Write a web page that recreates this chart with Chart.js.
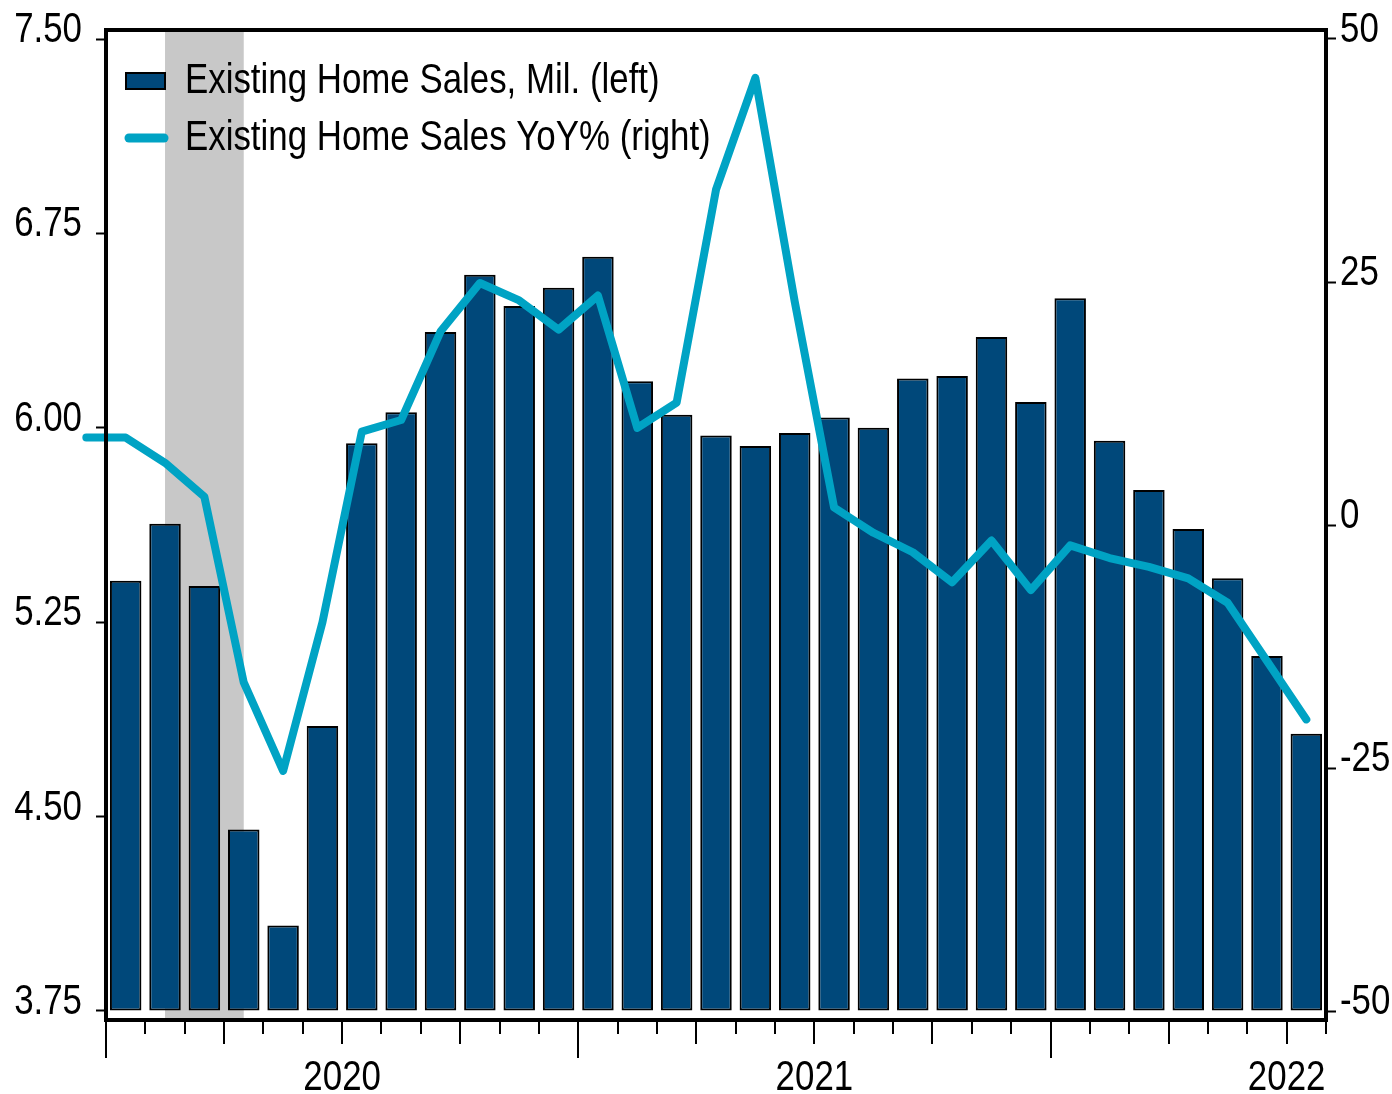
<!DOCTYPE html>
<html>
<head>
<meta charset="utf-8">
<script src="https://cdn.jsdelivr.net/npm/chart.js@4.4.1/dist/chart.umd.min.js"></script>
<style>
  html, body { margin: 0; padding: 0; background: #fff; }
  #wrap { width: 1392px; height: 1094px; position: relative; }
</style>
</head>
<body>
<div id="wrap"><canvas id="chart"></canvas></div>
<script>
// months shown as bars, Jan 2020 .. Jul 2022
var months = [
  'Jan 2020', 'Feb 2020', 'Mar 2020', 'Apr 2020', 'May 2020', 'Jun 2020',
  'Jul 2020', 'Aug 2020', 'Sep 2020', 'Oct 2020', 'Nov 2020', 'Dec 2020',
  'Jan 2021', 'Feb 2021', 'Mar 2021', 'Apr 2021', 'May 2021', 'Jun 2021',
  'Jul 2021', 'Aug 2021', 'Sep 2021', 'Oct 2021', 'Nov 2021', 'Dec 2021',
  'Jan 2022', 'Feb 2022', 'Mar 2022', 'Apr 2022', 'May 2022', 'Jun 2022',
  'Jul 2022'
];

// existing home sales, millions (left axis)
var sales = [
  5.41, 5.63, 5.39, 4.45, 4.08, 4.85, 5.94, 6.06, 6.37, 6.59, 6.47, 6.54,
  6.66, 6.18, 6.05, 5.97, 5.93, 5.98, 6.04, 6.00, 6.19, 6.20, 6.35, 6.10,
  6.50, 5.95, 5.76, 5.61, 5.42, 5.12, 4.82
];

// YoY %, starts one month earlier (Dec 2019) than the bars (right axis)
var yoyStart = -1; // offset in months from Jan 2020
var yoy = [
  9.0,
  9.0, 6.4, 2.9, -16.2, -25.3, -10.0, 9.6, 10.8, 19.9, 24.9, 23.1, 20.1,
  23.6, 10.0, 12.6, 34.5, 46.0, 23.0, 1.8, -0.8, -2.8, -5.9, -1.6, -6.7,
  -2.1, -3.4, -4.3, -5.5, -8.0, -14.0, -20.0
];

var leftTicks = [3.75, 4.50, 5.25, 6.00, 6.75, 7.50];
var rightTicks = [-50, -25, 0, 25, 50];
var yearLabels = ['2020', '2021', '2022'];
var recession = ['Feb 2020', 'Apr 2020'];

var FONT = "'Liberation Sans', Arial, sans-serif";
var FONT_SIZE = 42;
var NARROW = 0.83; // squeeze to look like Arial Narrow
var BAR_COLOR = '#00487a';
var LINE_COLOR = '#00a3c4';

// position in the middle of a month
function monthPos(label) {
  return months.indexOf(label) + 0.5;
}

// narrow text helper
function narrowText(ctx, text, x, y, align) {
  ctx.save();
  ctx.translate(x, y);
  ctx.scale(NARROW, 1);
  ctx.textAlign = align;
  ctx.textBaseline = 'alphabetic';
  ctx.fillText(text, 0, 0);
  ctx.restore();
}

// grey recession band, behind the bars
var bandPlugin = {
  id: 'band',
  beforeDatasetsDraw: function (chart) {
    var ctx = chart.ctx, area = chart.chartArea, x = chart.scales.x;
    var x0 = x.getPixelForValue(monthPos(recession[0]));
    var x1 = x.getPixelForValue(monthPos(recession[1]));
    ctx.save();
    ctx.fillStyle = '#c8c8c8';
    ctx.fillRect(x0, area.top, x1 - x0, area.bottom - area.top);
    ctx.restore();
  }
};

// frame, month ticks, axis labels and legend
var framePlugin = {
  id: 'frame',
  afterDraw: function (chart) {
    var ctx = chart.ctx, area = chart.chartArea;
    var x = chart.scales.x, y = chart.scales.y, y2 = chart.scales.y2;
    ctx.save();
    ctx.strokeStyle = '#000';
    ctx.lineWidth = 4;
    ctx.strokeRect(area.left, area.top, area.right - area.left, area.bottom - area.top);

    // month ticks: long at years, medium at quarters
    ctx.lineWidth = 2;
    for (var m = 0; m <= months.length; m++) {
      var px = Math.round(x.getPixelForValue(m));
      var len = (m % 12 === 0) ? 36 : (m % 3 === 0 ? 22 : 12);
      ctx.beginPath();
      ctx.moveTo(px, area.bottom + 2);
      ctx.lineTo(px, area.bottom + 2 + len);
      ctx.stroke();
    }

    ctx.fillStyle = '#000';
    ctx.font = FONT_SIZE + 'px ' + FONT;

    y.ticks.forEach(function (t) {
      narrowText(ctx, t.value.toFixed(2), 82, y.getPixelForValue(t.value) + 3, 'right');
    });
    y2.ticks.forEach(function (t) {
      narrowText(ctx, String(t.value), 1340, y2.getPixelForValue(t.value) + 3, 'left');
    });
    x.ticks.forEach(function (t, i) {
      narrowText(ctx, yearLabels[i], x.getPixelForValue(t.value), 1090, 'center');
    });

    // legend
    var ds = chart.data.datasets;
    ctx.fillStyle = ds[0].backgroundColor;
    ctx.fillRect(126, 73, 39, 16);
    ctx.strokeStyle = '#000';
    ctx.lineWidth = 2;
    ctx.strokeRect(126, 73, 39, 16);
    ctx.fillStyle = '#000';
    narrowText(ctx, ds[0].label, 185, 93, 'left');

    ctx.strokeStyle = ds[1].borderColor;
    ctx.lineWidth = 9;
    ctx.lineCap = 'round';
    ctx.beginPath();
    ctx.moveTo(129, 138);
    ctx.lineTo(164, 138);
    ctx.stroke();
    ctx.fillStyle = '#000';
    narrowText(ctx, ds[1].label, 185, 150, 'left');
    ctx.restore();
  }
};

var ctx = document.getElementById('chart').getContext('2d');
new Chart(ctx, {
  data: {
    datasets: [{
      type: 'bar',
      label: 'Existing Home Sales, Mil. (left)',
      data: sales.map(function (v, i) { return { x: monthPos(months[i]), y: v }; }),
      yAxisID: 'y',
      base: 3.75,
      backgroundColor: BAR_COLOR,
      borderColor: '#000',
      borderWidth: 2,
      borderSkipped: false,
      categoryPercentage: 1.0,
      barPercentage: 0.8,
      order: 1
    }, {
      type: 'line',
      label: 'Existing Home Sales YoY% (right)',
      data: yoy.map(function (v, i) { return { x: yoyStart + i + 0.5, y: v }; }),
      yAxisID: 'y2',
      borderColor: LINE_COLOR,
      backgroundColor: LINE_COLOR,
      borderWidth: 8,
      borderCapStyle: 'round',
      borderJoinStyle: 'round',
      pointRadius: 0,
      tension: 0,
      clip: false,
      order: 0
    }]
  },
  options: {
    responsive: true,
    maintainAspectRatio: false,
    animation: false,
    layout: { padding: { top: 30, left: 0, right: 0, bottom: 0 } },
    plugins: {
      legend: { display: false },
      tooltip: { enabled: false }
    },
    scales: {
      x: {
        type: 'linear',
        min: 0,
        max: months.length,
        offset: false,
        grid: { display: false, offset: false },
        border: { display: false },
        afterBuildTicks: function (scale) {
          scale.ticks = yearLabels.map(function (yr) { return { value: monthPos('Jul ' + yr) - 0.5 }; });
        },
        ticks: { display: false },
        afterFit: function (scale) { scale.height = 74; }
      },
      y: {
        position: 'left',
        min: 3.75 - 9 / 259.2,
        max: 7.50 + 9 / 259.2,
        grid: { drawOnChartArea: false, drawTicks: true, tickLength: 10, tickColor: '#000', tickWidth: 2 },
        border: { display: false },
        afterBuildTicks: function (scale) {
          scale.ticks = leftTicks.map(function (v) { return { value: v }; });
        },
        ticks: { display: false },
        afterFit: function (scale) { scale.width = 106; }
      },
      y2: {
        position: 'right',
        min: -50 - 9 / 9.72,
        max: 50 + 9 / 9.72,
        grid: { drawOnChartArea: false, drawTicks: true, tickLength: 10, tickColor: '#000', tickWidth: 2 },
        border: { display: false },
        afterBuildTicks: function (scale) {
          scale.ticks = rightTicks.map(function (v) { return { value: v }; });
        },
        ticks: { display: false },
        afterFit: function (scale) { scale.width = 66; }
      }
    }
  },
  plugins: [bandPlugin, framePlugin]
});
</script>
</body>
</html>
